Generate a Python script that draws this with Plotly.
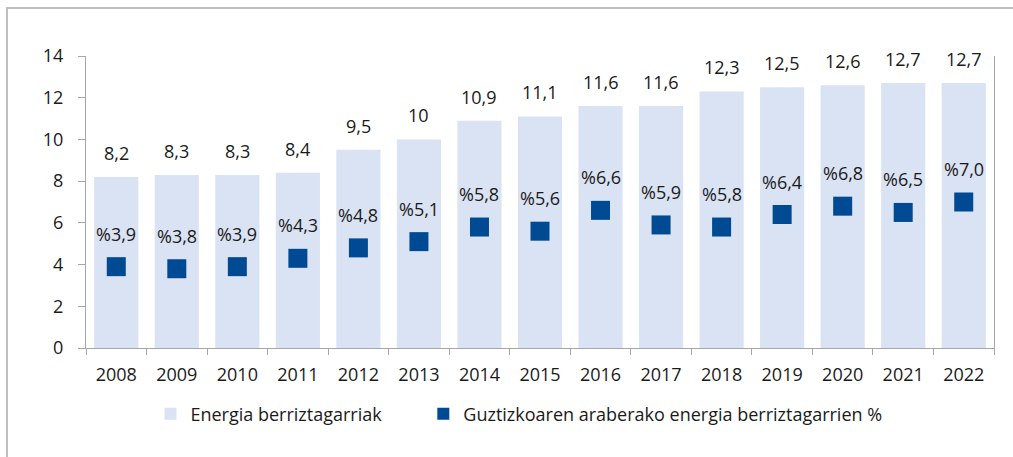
import plotly.graph_objects as go

years = ["2008", "2009", "2010", "2011", "2012", "2013", "2014", "2015",
         "2016", "2017", "2018", "2019", "2020", "2021", "2022"]
renewables = [8.2, 8.3, 8.3, 8.4, 9.5, 10, 10.9, 11.1, 11.6, 11.6, 12.3, 12.5, 12.6, 12.7, 12.7]
renewables_labels = ["8,2", "8,3", "8,3", "8,4", "9,5", "10", "10,9", "11,1", "11,6", "11,6",
                     "12,3", "12,5", "12,6", "12,7", "12,7"]
share_pct = [3.9, 3.8, 3.9, 4.3, 4.8, 5.1, 5.8, 5.6, 6.6, 5.9, 5.8, 6.4, 6.8, 6.5, 7.0]
share_labels = ["%3,9", "%3,8", "%3,9", "%4,3", "%4,8", "%5,1", "%5,8", "%5,6", "%6,6", "%5,9",
                "%5,8", "%6,4", "%6,8", "%6,5", "%7,0"]
y_ticks = [0, 2, 4, 6, 8, 10, 12, 14]

BAR_COLOR = "#DAE3F3"
SQ_COLOR = "#004A93"
FONT = "Open Sans"
FS = 18
TXT = "#1a1a1a"

fig = go.Figure()
fig.add_trace(go.Bar(
    x=years, y=renewables, name="Energia berriztagarriak",
    marker=dict(color=BAR_COLOR, line=dict(width=0)),
    hoverinfo="skip", legend="legend",
))
fig.add_trace(go.Scatter(
    x=years, y=share_pct, name="Guztizkoaren araberako energia berriztagarrien %",
    mode="markers",
    marker=dict(symbol="square", size=19, color=SQ_COLOR),
    hoverinfo="skip", legend="legend2",
))

annotations = []
for i, (v, t) in enumerate(zip(renewables, renewables_labels)):
    annotations.append(dict(x=i, y=v, text=t, showarrow=False, yshift=24,
                            font=dict(family=FONT, size=FS, color=TXT)))
for i, (v, t) in enumerate(zip(share_pct, share_labels)):
    annotations.append(dict(x=i, y=v, text=t, showarrow=False, yshift=33,
                            font=dict(family=FONT, size=FS, color=TXT)))

legend_common = dict(orientation="h", xanchor="left", y=-0.226, yanchor="middle",
                     font=dict(family=FONT, size=FS, color=TXT),
                     itemsizing="constant", bgcolor="rgba(0,0,0,0)")

fig.update_layout(
    width=1013, height=457,
    margin=dict(l=86, r=19, t=56, b=109),
    paper_bgcolor="white", plot_bgcolor="white",
    font=dict(family=FONT, size=FS, color=TXT),
    bargap=0.27,
    showlegend=True,
    legend=dict(x=0.071, **legend_common),
    legend2=dict(x=0.3715, **legend_common),
    annotations=annotations,
    shapes=[dict(type="rect", xref="paper", yref="paper",
                 x0=-0.087, x1=1.05, y0=-0.4, y1=1.164,
                 line=dict(color="#BFBFBF", width=2), layer="below")],
)
fig.update_xaxes(
    type="category", range=[-0.5, len(years) - 0.5],
    showgrid=False, showline=True, linecolor="#A6A6A6", linewidth=1,
    ticks="outside", tickson="boundaries", ticklen=6, tickcolor="#A6A6A6",
    ticklabelstandoff=10,
    tickfont=dict(family=FONT, size=FS, color=TXT),
)
fig.update_yaxes(
    range=[0, 14], tickvals=y_ticks, showgrid=False, zeroline=False,
    showline=True, linecolor="#A6A6A6", linewidth=1, mirror=True,
    ticks="outside", ticklen=7, tickcolor="#A6A6A6", ticklabelstandoff=11,
    tickfont=dict(family=FONT, size=FS, color=TXT),
)

fig.write_html("out.html", config={"displayModeBar": False},
               post_script="document.body.style.margin='0';")
